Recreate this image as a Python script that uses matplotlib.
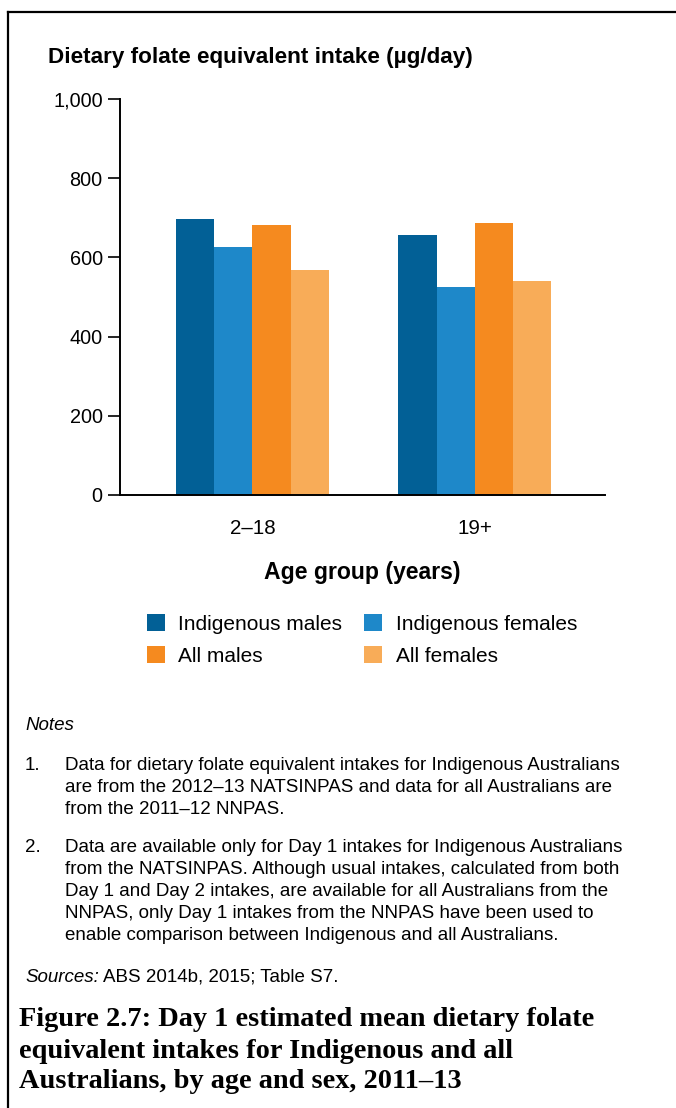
import matplotlib
matplotlib.use("Agg")
import matplotlib.pyplot as plt
from matplotlib.patches import Patch
from matplotlib.lines import Line2D
import numpy as np

# ---- data ----
age_groups = ["2\u201318", "19+"]
series_names = ["Indigenous males", "Indigenous females", "All males", "All females"]
indigenous_males = [697, 657]
indigenous_females = [626, 525]
all_males = [683, 687]
all_females = [569, 540]
y_ticks = [0, 200, 400, 600, 800, 1000]
y_tick_labels = ["0", "200", "400", "600", "800", "1,000"]

colors = ["#026096", "#1E88C9", "#F58A1F", "#F8AC58"]

W, H = 676, 1108
DPI = 100
plt.rcParams['font.family'] = ['Liberation Sans', 'DejaVu Sans']

fig = plt.figure(figsize=(W / DPI, H / DPI), dpi=DPI)


def fx(px):
    return px / W


def fy(py):
    return 1 - py / H


# axes placement in pixels
ax_l, ax_r, ax_t, ax_b = 120, 605, 99, 495
ax = fig.add_axes([fx(ax_l), fy(ax_b), fx(ax_r - ax_l), (ax_b - ax_t) / H])

series = [indigenous_males, indigenous_females, all_males, all_females]
x = np.arange(len(age_groups))
bw = 0.172
for i, (vals, name, c) in enumerate(zip(series, series_names, colors)):
    ax.bar(x + (i - 1.5) * bw, vals, width=bw, color=c, label=name, linewidth=0)

ax.set_xlim(-0.596, 1.586)
ax.set_ylim(0, 1000)
ax.set_yticks(y_ticks)
ax.set_yticklabels(y_tick_labels, fontsize=14.3)
ax.set_xticks(x)
ax.set_xticklabels(age_groups, fontsize=14.8)
ax.tick_params(axis='y', direction='out', length=8.5, width=1.2, pad=4)
ax.tick_params(axis='x', length=0, pad=17)
for s in ['top', 'right']:
    ax.spines[s].set_visible(False)
for s in ['left', 'bottom']:
    ax.spines[s].set_linewidth(1.4)

# y-axis title (horizontal, above axes)
fig.text(fx(48), fy(58), "Dietary folate equivalent intake (\u00b5g/day)",
         fontsize=16.2, fontweight='bold', ha='left', va='center')
# x-axis title
fig.text(fx(362), fy(573), "Age group (years)", fontsize=16.6, fontweight='bold',
         ha='center', va='center')

# legend
handles = [Patch(facecolor=colors[k], edgecolor='none') for k in range(4)]
order = [0, 2, 1, 3]
fig.legend([handles[k] for k in order], [series_names[k] for k in order],
           ncol=2, loc='center', bbox_to_anchor=(fx(362), fy(640)),
           frameon=False, fontsize=15, handlelength=0.87, handleheight=0.87,
           handletextpad=0.63, columnspacing=1.06, labelspacing=0.6,
           borderpad=0)

# notes
nfs = 13.5
fig.text(fx(25), fy(726), "Notes", fontsize=nfs, style='italic', ha='left', va='center')
note1 = ["Data for dietary folate equivalent intakes for Indigenous Australians",
         "are from the 2012\u201313 NATSINPAS and data for all Australians are",
         "from the 2011\u201312 NNPAS."]
note2 = ["Data are available only for Day 1 intakes for Indigenous Australians",
         "from the NATSINPAS. Although usual intakes, calculated from both",
         "Day 1 and Day 2 intakes, are available for all Australians from the",
         "NNPAS, only Day 1 intakes from the NNPAS have been used to",
         "enable comparison between Indigenous and all Australians."]
lh = 22
fig.text(fx(25), fy(766), "1.", fontsize=nfs, ha='left', va='center')
for k, line in enumerate(note1):
    fig.text(fx(65), fy(766 + k * lh), line, fontsize=nfs, ha='left', va='center')
fig.text(fx(25), fy(848), "2.", fontsize=nfs, ha='left', va='center')
for k, line in enumerate(note2):
    fig.text(fx(65), fy(848 + k * lh), line, fontsize=nfs, ha='left', va='center')

t = fig.text(fx(25), fy(977), "Sources:", fontsize=nfs, style='italic', ha='left', va='center')
fig.canvas.draw()
bb = t.get_window_extent()
fig.text((bb.x1 + 4) / W, fy(977), "ABS 2014b, 2015; Table S7.", fontsize=nfs,
         ha='left', va='center')

# caption
cap = ["Figure 2.7: Day 1 estimated mean dietary folate",
       "equivalent intakes for Indigenous and all",
       "Australians, by age and sex, 2011\u201313"]
for k, line in enumerate(cap):
    fig.text(fx(19), fy(1020 + k * 31), line, fontsize=20.4, fontweight='bold',
             family=['Liberation Serif', 'DejaVu Serif'], ha='left', va='center')

# frame lines (top and left)
fig.add_artist(Line2D([fx(8), 1.0], [fy(12), fy(12)], color='black', linewidth=1.6,
                      transform=fig.transFigure))
fig.add_artist(Line2D([fx(8), fx(8)], [fy(12), 0.0], color='black', linewidth=1.6,
                      transform=fig.transFigure))

fig.savefig("out.png", dpi=DPI)
